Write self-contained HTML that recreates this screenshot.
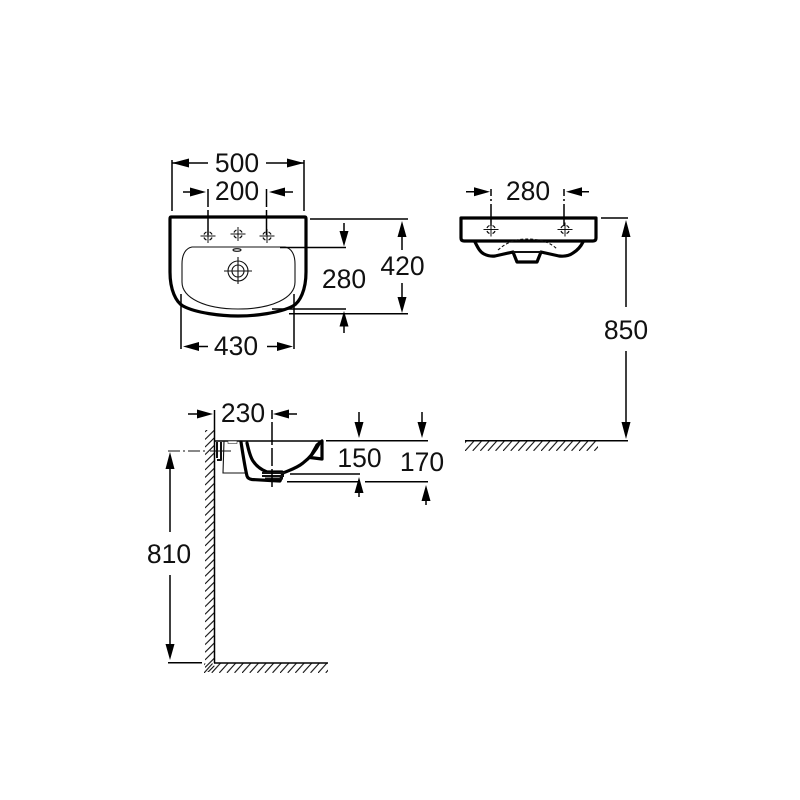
<!DOCTYPE html>
<html><head><meta charset="utf-8"><style>
html,body{margin:0;padding:0;background:#fff;width:800px;height:800px;overflow:hidden}
svg{display:block;filter:blur(.3px)}
text{font-family:"Liberation Sans",Arial,sans-serif;font-size:26.5px;fill:#111;text-anchor:middle}
.l{stroke:#000;stroke-width:1.5;fill:none}
.t{stroke:#111;stroke-width:1.1;fill:none}
.k{stroke:#000;stroke-width:3.2;fill:none;stroke-linejoin:round;stroke-linecap:round}
.m{stroke:#111;stroke-width:2;fill:none;stroke-linejoin:round}
.a{fill:#000;stroke:none}
</style></head><body>
<svg width="800" height="800" viewBox="0 0 800 800" xmlns="http://www.w3.org/2000/svg">
<defs>
<pattern id="hf" patternUnits="userSpaceOnUse" x="465" y="441" width="7.6" height="10">
<path d="M9 0L0 10M1.400 0L-7.600 10" stroke="#111" stroke-width="1.100" fill="none"/></pattern>
<pattern id="hf2" patternUnits="userSpaceOnUse" x="204" y="663" width="7.6" height="10">
<path d="M9 0L0 10M1.400 0L-7.600 10" stroke="#111" stroke-width="1.100" fill="none"/></pattern>
<pattern id="hw" patternUnits="userSpaceOnUse" x="205" y="430" width="9.5" height="7.6">
<path d="M0 9.500L9.500 0M0 1.900L9.500 -7.600" stroke="#111" stroke-width="1.100" fill="none"/></pattern>
<g id="tap" fill="none" stroke="#111" stroke-width="1">
<path d="M-7.500 0H7.500M0 -7V7"/>
<path d="M-4 -1.500A4.300 4.300 0 0 1 -1.500 -4M1.500 -4A4.300 4.300 0 0 1 4 -1.500M4 1.500A4.300 4.300 0 0 1 1.500 4M-1.500 4A4.300 4.300 0 0 1 -4 1.500" stroke-width="1.200"/>
</g>
</defs>

<!-- Front view -->
<path class="k" d="M171 217H305Q306 217 306 219V272C306 290 300 302 293 306C280 313 255 316 238 316C221 316 196 313 183 306C176 302 170 290 170 272V219Q170 217 171 217Z"/>
<path class="t" d="M192 247H285C291 248 295 254 295 264V282C295 298 272 309 238 309C205 309 182 298 182 282V264C182 254 186 248 192 247Z"/>
<ellipse cx="237" cy="250" rx="4" ry="1.300" class="t"/>
<circle cx="238" cy="271" r="10" class="t" stroke-width="1.400"/>
<circle cx="238" cy="271" r="6" class="t" stroke-width="1.400"/>
<path class="t" d="M224 271H252M238 257V284"/>
<use href="#tap" x="208" y="236"/>
<use href="#tap" x="238" y="234"/>
<use href="#tap" x="267" y="236"/>

<path class="l" d="M172 160V211M304 160V211"/>
<path class="l" d="M172 163H208M266 163H304"/>
<polygon class="a" points="172,163 189,158.500 189,167.500"/>
<polygon class="a" points="304,163 287,158.500 287,167.500"/>
<text x="237" y="172">500</text>

<path class="l" d="M183 192H200M280 192H293"/>
<polygon class="a" points="206,192 190,187.500 190,196.500"/>
<polygon class="a" points="269,192 285,187.500 285,196.500"/>
<path class="l" d="M208 189V207M208 210V235M266.500 189V207M266.500 210V235"/>
<text x="237" y="200">200</text>

<path class="l" d="M310 219H408M280 247.500H346M289 313.700H408M272 309H346"/>
<path class="l" d="M344 223V240M344 320V333"/>
<polygon class="a" points="344,246.500 339.500,231 348.500,231"/>
<polygon class="a" points="344,311 339.500,326.500 348.500,326.500"/>
<text x="344" y="288">280</text>
<path class="l" d="M402 228V250M402 283V306"/>
<polygon class="a" points="402,221 397.500,237 406.500,237"/>
<polygon class="a" points="402,313 397.500,297 406.500,297"/>
<text x="402.500" y="275">420</text>

<path class="l" d="M181 294V349M294 294V349M190 346.500H208M267 346.500H288"/>
<polygon class="a" points="183,346.500 199,342 199,351"/>
<polygon class="a" points="293,346.500 277,342 277,351"/>
<text x="236" y="355">430</text>

<!-- Top right view -->
<path class="k" d="M461 218H596V238Q596 241 593 241H464Q461 241 461 238Z" stroke-width="2.800"/>
<path class="k" stroke-width="2.600" d="M475 242C478 248 480 252 484 254C488 256 491 256.500 495 256L513 252L517 262H537L541 252L559 256C564 256.500 569 256 573 253C578 250 581 246 583 242"/>
<path class="m" stroke-width="1.600" d="M513 252H541"/>
<path class="t" stroke-dasharray="3 2" d="M498 250C508 241 518 239 527 239C537 239 549 241 557 249"/>
<path class="l" d="M466 191.700H483M581 191.700H589"/>
<polygon class="a" points="490,191.700 474,187.200 474,196.200"/>
<polygon class="a" points="566,191.700 582,187.200 582,196.200"/>
<path class="l" d="M491 189V196M491 199V201M491 204V226M564 189V196M564 199V201M564 204V226"/>
<use href="#tap" x="491" y="229.500"/>
<use href="#tap" x="565" y="229.500"/>
<text x="528" y="200">280</text>

<path class="l" d="M601 218H628"/>
<path class="l" d="M626 228V307M626 351V432"/>
<polygon class="a" points="626,220 621.500,237 630.500,237"/>
<polygon class="a" points="626,439 621.500,422 630.500,422"/>
<text x="626" y="339">850</text>
<path class="l" d="M465 440.700H628" stroke-width="1.600"/>
<rect x="465" y="441" width="133" height="10" fill="url(#hf)"/>

<!-- Side view -->
<rect x="205" y="430" width="9.500" height="242" fill="url(#hw)"/>
<path class="l" d="M214.500 410V430"/>
<path class="l" d="M214.500 430V663" stroke-width="1.800"/>
<path class="l" d="M214 663H328" stroke-width="1.800"/>
<rect x="204" y="663.500" width="124" height="9.500" fill="url(#hf2)"/>
<path class="l" d="M214 441H322"/>
<!-- Bracket -->
<path class="m" stroke-width="2.600" d="M217 442V458M221 442V460H217"/>
<path class="t" d="M210 451H231M224 441L223 473H245"/>
<rect x="228" y="441" width="9" height="2.500" fill="#fff" stroke="#333" stroke-width=".6"/>
<!-- Bowl outline -->
<path class="k" stroke-width="3" d="M247 443C249 452 251 458 253 461C257 467 262 470 267 472H282"/>
<path class="k" stroke-width="3" d="M241 442C243 455 245 468 247 476Q248 479 252 479.500L270 480.500L280 481L283 473C290 470 297 468 303 463C311 457 316 450 320 442"/>
<path class="k" stroke-width="2.800" d="M317 445L322 441V459L310 457.500L317 445"/>
<path class="m" stroke-width="1.500" d="M262 473H285M262 476H284M265 478.500H283"/>
<path class="l" d="M272 410V419M272 422V445M272 448V466M272 469V487"/>

<path class="l" d="M188 414H205M280 414H297"/>
<polygon class="a" points="213,414 197,409.500 197,418.500"/>
<polygon class="a" points="273,414 289,409.500 289,418.500"/>
<text x="243" y="422">230</text>

<path class="l" d="M326 440.700H428M290 474H360M287 481.700H360M365 481.700H428"/>
<path class="l" d="M359 412V430M422 412V430"/>
<polygon class="a" points="359,438 354.500,422 363.500,422"/>
<polygon class="a" points="422,438 417.500,422 426.500,422"/>
<path class="l" d="M359 485V497M426 493V505"/>
<polygon class="a" points="359,477 354.500,493 363.500,493"/>
<polygon class="a" points="426,485 421.500,501 430.500,501"/>
<text x="359.500" y="467">150</text>
<text x="422" y="471">170</text>

<path class="t" stroke-dasharray="12 3 2 3" d="M168 451H206"/>
<path class="l" d="M170 460V532M170 575V652"/>
<polygon class="a" points="170,452 165.500,469 174.500,469"/>
<polygon class="a" points="170,660 165.500,644 174.500,644"/>
<text x="169" y="563">810</text>
<path class="l" d="M168 662.700H202"/>
</svg>
</body></html>
